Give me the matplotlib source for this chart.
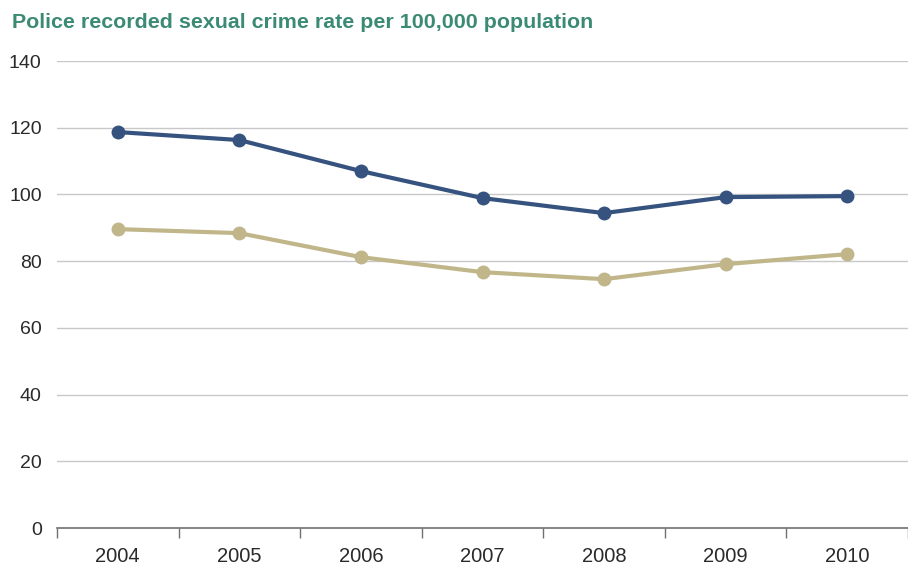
import matplotlib
matplotlib.use('Agg')
import matplotlib.pyplot as plt

years = ['2004', '2005', '2006', '2007', '2008', '2009', '2010']
series_a = [118.7, 116.3, 107.0, 98.9, 94.4, 99.2, 99.5]
series_b = [89.6, 88.4, 81.2, 76.7, 74.6, 79.1, 82.1]
y_ticks = [0, 20, 40, 60, 80, 100, 120, 140]

plt.rcParams['font.family'] = ['Liberation Sans', 'DejaVu Sans']

fig = plt.figure(figsize=(9.08, 5.68), dpi=100)
ax = fig.add_axes([0.0628, 0.0704, 0.9372, 0.8222])

x = list(range(len(years)))
ax.plot(x, series_a, color='#36537f', linewidth=3, marker='o', markersize=9, zorder=3)
ax.plot(x, series_b, color='#c1b68a', linewidth=3, marker='o', markersize=9, zorder=3)

ax.set_xlim(-0.5, len(years) - 0.5)
ax.set_ylim(0, 140)
ax.set_yticks(y_ticks)
ax.set_yticklabels([str(v) for v in y_ticks])
for v in y_ticks[1:]:
    ax.axhline(v, color='#c8c8c8', linewidth=1, zorder=1)

# category axis: ticks at boundaries, labels centred
ax.set_xticks([i - 0.5 for i in range(len(years) + 1)])
ax.set_xticklabels([])
ax.set_xticks(x, minor=True)
ax.set_xticklabels(years, minor=True)
ax.tick_params(axis='x', which='major', length=7, width=1, color='#707070', direction='out')
ax.tick_params(axis='x', which='minor', length=0, pad=14, labelsize=14.5, labelcolor='#2a2a2a')
ax.tick_params(axis='y', length=0, pad=11, labelsize=14, labelcolor='#2a2a2a')

for s in ['top', 'right', 'left']:
    ax.spines[s].set_visible(False)
ax.spines['bottom'].set_color('#707070')
ax.spines['bottom'].set_linewidth(1.2)

fig.text(0.013, 0.9507, 'Police recorded sexual crime rate per 100,000 population',
         fontsize=15.4, fontweight='bold', color='#3b8a74', ha='left', va='baseline')

fig.savefig('out.png', dpi=100)
